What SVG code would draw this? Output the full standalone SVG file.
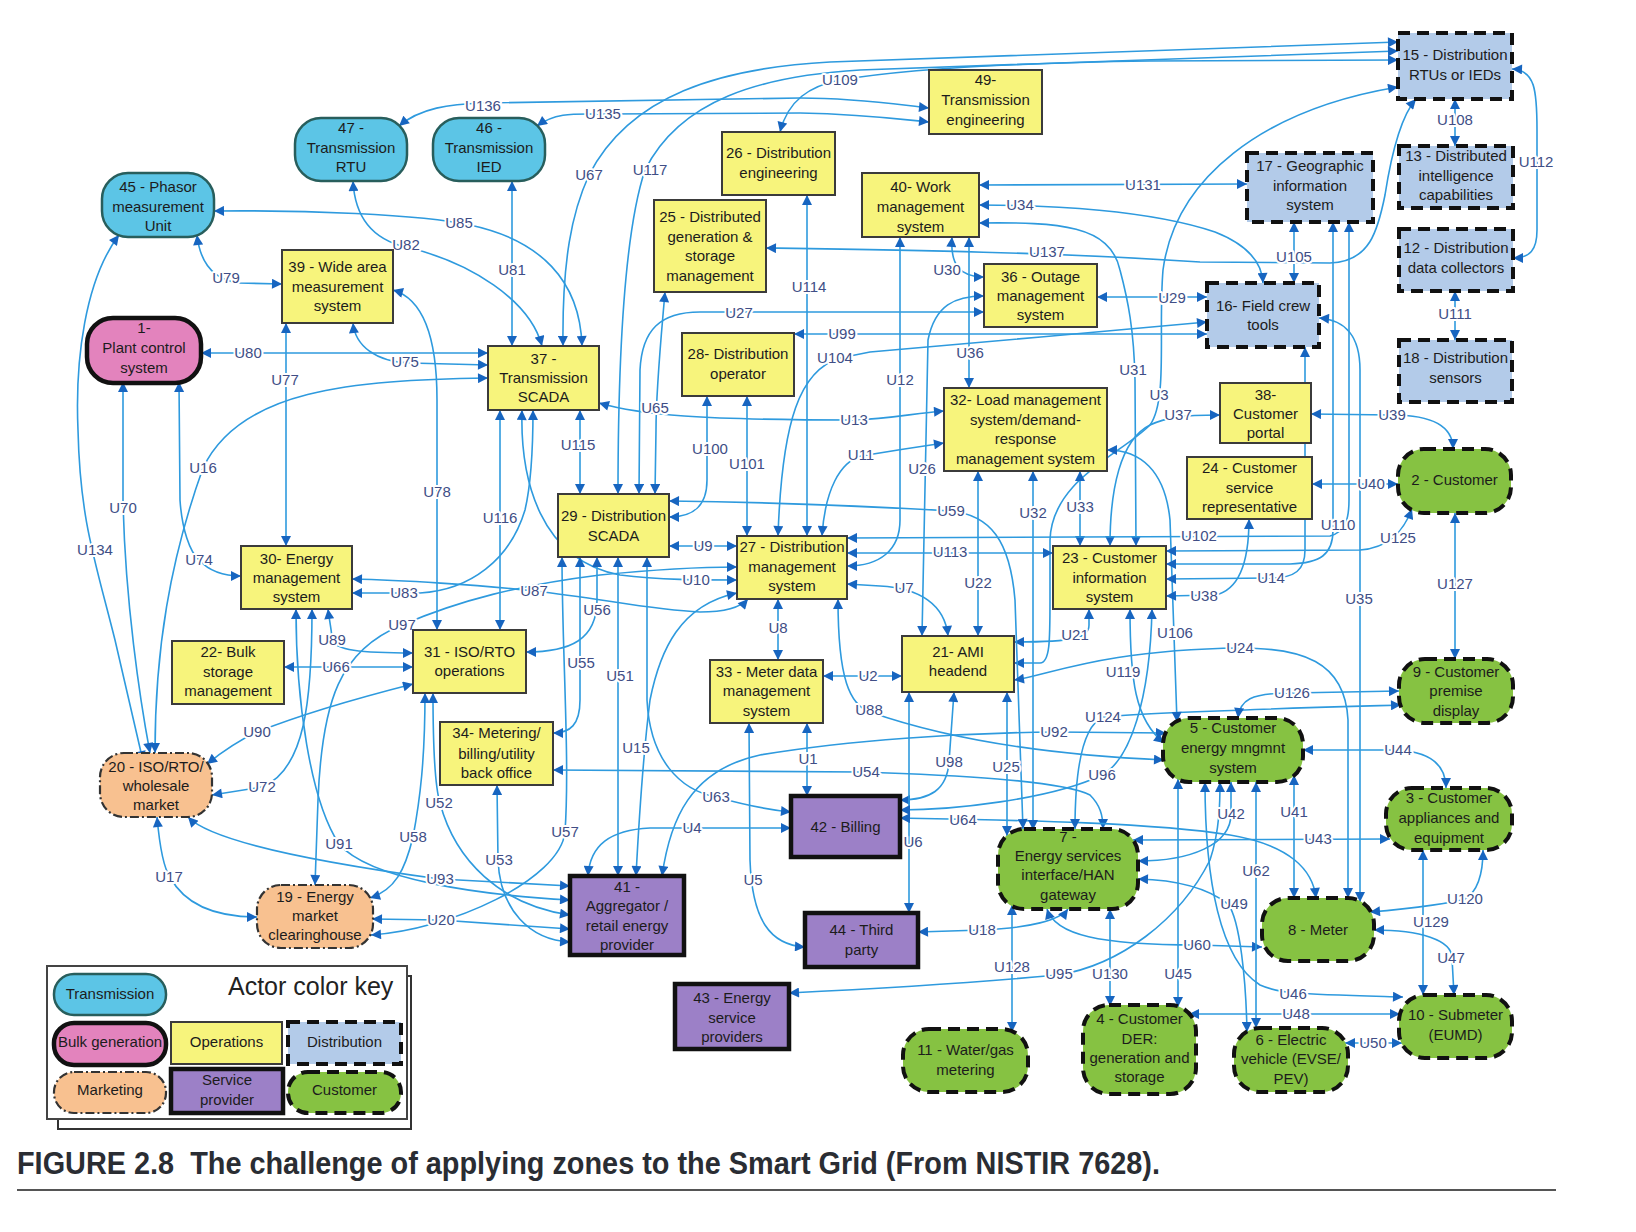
<svg xmlns="http://www.w3.org/2000/svg" width="1636" height="1232" viewBox="0 0 1636 1232">
<defs>
<marker id="a" viewBox="0 0 10 10" refX="10" refY="5" markerUnits="userSpaceOnUse" markerWidth="12" markerHeight="10" orient="auto-start-reverse"><path d="M0,0 L10,5 L0,10 z" fill="#1765c0"/></marker>
</defs>
<style>
.c{fill:none;stroke:#2e9ade;stroke-width:1.6;marker-start:url(#a);marker-end:url(#a)}
.l{font-family:"Liberation Sans",Arial,sans-serif;font-size:15px;fill:#404e86;text-anchor:middle;stroke:#fff;stroke-width:4px;paint-order:stroke;stroke-linejoin:round}
.t{font-family:"Liberation Sans",Arial,sans-serif;font-size:15px;fill:#1c1c1c;text-anchor:middle}
.op{fill:#f7f47c;stroke:#3b3b3b;stroke-width:2}
.tr{fill:#5cc5e6;stroke:#285e5c;stroke-width:2.5}
.bg{fill:#e383bd;stroke:#111;stroke-width:4.5}
.di{fill:#b3cbe9;stroke:#111;stroke-width:4;stroke-dasharray:12 7}
.mk{fill:#f8c190;stroke:#333;stroke-width:2.2;stroke-dasharray:9 3 2 3}
.sp{fill:#9c80c7;stroke:#111;stroke-width:4.5}
.cu{fill:#86c242;stroke:#111;stroke-width:4;stroke-dasharray:12 7}
</style>
<rect width="1636" height="1232" fill="#fff"/>
<g id="connectors">
<path class="c" d="M399,126 C420,108 450,104 483,103 L800,98 C860,98 900,105 929,108"/>
<path class="c" d="M537,126 C556,112 575,114 603,114 L800,113 C860,114 900,119 929,122"/>
<path class="c" d="M780,132 C788,100 810,86 840,80 C900,70 1000,63 1150,61 L1398,60"/>
<path class="c" d="M563,346 C562,260 572,212 589,175 C630,95 720,68 830,62 L1398,42"/>
<path class="c" d="M618,494 C618,350 625,230 645,170 C680,100 760,76 860,70 L1398,51"/>
<path class="c" d="M766,248 C900,250 1050,252 1200,262 L1330,263 C1370,262 1378,230 1385,195 C1392,150 1402,115 1416,99"/>
<path class="c" d="M1014,663 L1040,663 C1050,663 1050,640 1050,600 L1050,540 C1052,480 1120,455 1150,425 C1168,400 1158,330 1163,270 C1175,180 1260,110 1398,87"/>
<path class="c" d="M979,185 L1247,184"/>
<path class="c" d="M979,205 C1050,205 1150,210 1215,232 C1248,245 1262,262 1263,283"/>
<path class="c" d="M979,223 C1060,222 1110,225 1120,270 C1128,300 1134,330 1135,380 L1136,546"/>
<path class="c" d="M952,237 C950,265 960,277 984,277"/>
<path class="c" d="M969,237 L969,388"/>
<path class="c" d="M984,296 C955,296 935,305 928,340 L922,636"/>
<path class="c" d="M984,312 L700,312 C660,312 642,330 640,370 L639,494"/>
<path class="c" d="M1097,297 L1207,297"/>
<path class="c" d="M1207,322 C1120,330 950,345 870,352 L840,358 C800,370 782,420 778,536"/>
<path class="c" d="M794,334 L1207,334"/>
<path class="c" d="M1294,222 L1294,283"/>
<path class="c" d="M1455,99 L1455,146"/>
<path class="c" d="M1455,291 L1455,340"/>
<path class="c" d="M1512,69 C1535,70 1537,90 1537,130 L1537,230 C1537,250 1530,258 1513,258"/>
<path class="c" d="M214,211 C300,210 420,214 470,225 C540,240 580,280 582,346"/>
<path class="c" d="M353,181 C355,220 375,240 406,247 C470,262 530,300 542,346"/>
<path class="c" d="M512,181 L512,346"/>
<path class="c" d="M197,235 C200,262 212,280 240,283 L282,284"/>
<path class="c" d="M201,353 L488,353"/>
<path class="c" d="M353,323 C355,345 375,362 410,363 L488,365"/>
<path class="c" d="M155,753 C155,650 170,560 203,468 C240,390 350,380 488,378"/>
<path class="c" d="M123,382 L123,500 C125,600 140,700 150,753"/>
<path class="c" d="M119,235 C85,280 75,360 78,430 C80,520 95,560 115,640 L143,761"/>
<path class="c" d="M179,382 L180,500 C182,530 190,552 199,560 C210,572 225,576 241,576"/>
<path class="c" d="M286,323 L286,546"/>
<path class="c" d="M393,290 C420,298 437,330 437,400 L437,630"/>
<path class="c" d="M500,410 L500,630"/>
<path class="c" d="M580,410 L580,494"/>
<path class="c" d="M665,292 C660,350 656,390 656,430 L655,494"/>
<path class="c" d="M707,396 L707,480 C707,505 695,517 669,517"/>
<path class="c" d="M747,396 L747,536"/>
<path class="c" d="M807,195 L807,536"/>
<path class="c" d="M599,403 C640,415 700,420 854,420 C890,419 915,413 944,411"/>
<path class="c" d="M944,443 C910,448 885,452 861,456 C840,462 825,490 822,536"/>
<path class="c" d="M900,237 L900,520 C900,550 880,566 847,566"/>
<path class="c" d="M847,553 L1053,553"/>
<path class="c" d="M669,546 L737,546"/>
<path class="c" d="M522,410 C520,480 540,560 620,575 C660,580 700,580 737,580"/>
<path class="c" d="M315,885 L318,800 C322,700 340,650 402,625 C460,600 520,585 600,575 C660,569 700,567 737,567"/>
<path class="c" d="M352,593 L420,593 C470,590 510,560 525,510 C532,480 533,440 533,410"/>
<path class="c" d="M352,579 C400,580 480,585 534,591 C600,598 650,610 700,612 C725,612 740,608 748,599"/>
<path class="c" d="M597,557 L597,600 C597,640 570,652 526,652"/>
<path class="c" d="M580,557 L580,700 C580,725 570,733 553,733"/>
<path class="c" d="M618,557 L618,876"/>
<path class="c" d="M737,593 C680,605 660,650 650,700 C645,740 640,800 636,876"/>
<path class="c" d="M647,557 L647,700 C650,760 680,790 716,797 C745,805 770,810 791,812"/>
<path class="c" d="M562,557 C562,650 570,760 565,832 C560,880 450,930 371,935"/>
<path class="c" d="M778,599 L778,660"/>
<path class="c" d="M847,584 L880,586 C920,588 945,605 948,636"/>
<path class="c" d="M823,676 L902,676"/>
<path class="c" d="M807,723 L807,796"/>
<path class="c" d="M749,723 L750,860 C752,920 770,945 805,947"/>
<path class="c" d="M838,599 C838,680 850,705 870,712 C950,740 1050,755 1164,760"/>
<path class="c" d="M662,876 C670,820 690,770 760,755 C850,740 960,733 1055,732 L1166,733"/>
<path class="c" d="M553,770 L860,772 C950,775 1060,780 1090,795 C1100,805 1103,815 1103,829"/>
<path class="c" d="M954,692 C952,720 950,745 949,762 C947,790 930,800 900,800"/>
<path class="c" d="M1007,692 L1007,836"/>
<path class="c" d="M909,692 L909,913"/>
<path class="c" d="M900,818 C1000,820 1150,822 1230,835 C1290,845 1313,870 1316,898"/>
<path class="c" d="M588,876 C590,845 610,830 650,828 L791,828"/>
<path class="c" d="M918,932 L982,930 C1030,928 1060,920 1068,909"/>
<path class="c" d="M1012,905 L1012,1032"/>
<path class="c" d="M1110,909 L1110,1006"/>
<path class="c" d="M789,993 C850,990 950,985 1058,975 C1120,965 1180,920 1210,860 C1220,830 1220,800 1220,782"/>
<path class="c" d="M1178,779 L1178,1007"/>
<path class="c" d="M1047,909 C1055,935 1100,945 1197,945 L1262,947"/>
<path class="c" d="M1152,609 C1150,700 1130,760 1102,775 C1050,800 950,810 900,810"/>
<path class="c" d="M1130,609 C1130,680 1135,720 1164,743"/>
<path class="c" d="M1075,829 C1075,760 1085,725 1103,717 C1150,712 1300,708 1401,705"/>
<path class="c" d="M1238,718 C1240,700 1250,693 1292,693 L1399,691"/>
<path class="c" d="M1089,609 L1089,625 C1089,638 1075,642 1014,642"/>
<path class="c" d="M978,471 L978,636"/>
<path class="c" d="M1033,471 L1033,830"/>
<path class="c" d="M1080,471 L1080,546"/>
<path class="c" d="M669,501 C750,502 850,505 951,511 C990,515 1010,540 1015,600 L1023,829"/>
<path class="c" d="M1110,546 C1110,490 1120,440 1150,425 C1165,418 1180,415 1220,415"/>
<path class="c" d="M1107,450 C1140,450 1165,470 1170,520 L1177,722"/>
<path class="c" d="M1249,519 C1249,560 1240,590 1215,595 L1166,596"/>
<path class="c" d="M1305,347 L1305,550 C1305,570 1295,578 1271,578 L1166,579"/>
<path class="c" d="M1333,222 L1333,530 C1333,555 1320,563 1290,564 L1166,564"/>
<path class="c" d="M847,538 L1330,536 C1345,532 1349,520 1349,500 L1349,222"/>
<path class="c" d="M1319,318 C1345,320 1360,335 1360,370 L1360,902"/>
<path class="c" d="M1014,680 C1050,675 1100,650 1240,648 C1300,648 1345,660 1348,720 L1348,898"/>
<path class="c" d="M1166,551 L1360,550 C1390,548 1404,530 1412,509"/>
<path class="c" d="M1311,414 L1392,415 C1430,415 1453,425 1453,449"/>
<path class="c" d="M1312,484 L1398,484"/>
<path class="c" d="M1455,513 L1455,659"/>
<path class="c" d="M1303,750 L1398,750 C1430,752 1446,765 1446,788"/>
<path class="c" d="M1231,782 L1231,814 C1231,845 1190,861 1138,861"/>
<path class="c" d="M1294,775 L1294,898"/>
<path class="c" d="M1256,782 L1256,1028"/>
<path class="c" d="M1138,879 C1180,880 1210,890 1228,904 C1240,920 1246,980 1247,1032"/>
<path class="c" d="M1133,840 L1390,839"/>
<path class="c" d="M1205,782 C1205,880 1220,960 1260,985 C1280,994 1300,994 1403,997"/>
<path class="c" d="M1189,1014 L1400,1014"/>
<path class="c" d="M1345,1043 L1402,1043"/>
<path class="c" d="M1374,930 C1420,930 1452,940 1452,958 L1454,995"/>
<path class="c" d="M1423,850 L1423,995"/>
<path class="c" d="M1370,912 C1420,908 1455,902 1465,899 C1480,890 1483,870 1483,850"/>
<path class="c" d="M328,609 C330,625 332,632 332,640 C335,650 360,653 413,653"/>
<path class="c" d="M284,667 L413,667"/>
<path class="c" d="M413,684 C350,700 300,715 257,732 C240,740 222,752 207,764"/>
<path class="c" d="M312,609 C312,700 305,770 262,787 L212,795"/>
<path class="c" d="M296,609 C296,700 310,800 339,844 C370,880 480,895 570,900"/>
<path class="c" d="M425,693 C425,760 420,800 413,837 C405,870 395,890 370,898"/>
<path class="c" d="M433,693 C433,760 436,790 440,803 C455,860 500,905 570,915"/>
<path class="c" d="M497,785 L498,860 C500,910 530,940 570,942"/>
<path class="c" d="M188,817 C210,840 300,860 440,879 L570,886"/>
<path class="c" d="M372,919 L440,920 L570,929"/>
<path class="c" d="M157,817 C160,850 165,870 170,877 C185,905 215,917 257,917"/>
<g id="connector-labels">
<text class="l" x="483" y="111">U136</text>
<text class="l" x="603" y="119">U135</text>
<text class="l" x="840" y="85">U109</text>
<text class="l" x="589" y="180">U67</text>
<text class="l" x="650" y="175">U117</text>
<text class="l" x="1047" y="257">U137</text>
<text class="l" x="1159" y="400">U3</text>
<text class="l" x="1143" y="190">U131</text>
<text class="l" x="1020" y="210">U34</text>
<text class="l" x="1133" y="375">U31</text>
<text class="l" x="947" y="275">U30</text>
<text class="l" x="970" y="358">U36</text>
<text class="l" x="922" y="474">U26</text>
<text class="l" x="739" y="318">U27</text>
<text class="l" x="1172" y="303">U29</text>
<text class="l" x="835" y="363">U104</text>
<text class="l" x="842" y="339">U99</text>
<text class="l" x="1294" y="262">U105</text>
<text class="l" x="1455" y="125">U108</text>
<text class="l" x="1455" y="319">U111</text>
<text class="l" x="1536" y="167">U112</text>
<text class="l" x="459" y="228">U85</text>
<text class="l" x="406" y="250">U82</text>
<text class="l" x="512" y="275">U81</text>
<text class="l" x="226" y="283">U79</text>
<text class="l" x="248" y="358">U80</text>
<text class="l" x="405" y="367">U75</text>
<text class="l" x="203" y="473">U16</text>
<text class="l" x="123" y="513">U70</text>
<text class="l" x="95" y="555">U134</text>
<text class="l" x="199" y="565">U74</text>
<text class="l" x="285" y="385">U77</text>
<text class="l" x="437" y="497">U78</text>
<text class="l" x="500" y="523">U116</text>
<text class="l" x="578" y="450">U115</text>
<text class="l" x="655" y="413">U65</text>
<text class="l" x="710" y="454">U100</text>
<text class="l" x="747" y="469">U101</text>
<text class="l" x="809" y="292">U114</text>
<text class="l" x="854" y="425">U13</text>
<text class="l" x="861" y="460">U11</text>
<text class="l" x="900" y="385">U12</text>
<text class="l" x="950" y="557">U113</text>
<text class="l" x="703" y="551">U9</text>
<text class="l" x="696" y="585">U10</text>
<text class="l" x="402" y="630">U97</text>
<text class="l" x="404" y="598">U83</text>
<text class="l" x="534" y="596">U87</text>
<text class="l" x="597" y="615">U56</text>
<text class="l" x="581" y="668">U55</text>
<text class="l" x="620" y="681">U51</text>
<text class="l" x="636" y="753">U15</text>
<text class="l" x="716" y="802">U63</text>
<text class="l" x="565" y="837">U57</text>
<text class="l" x="778" y="633">U8</text>
<text class="l" x="904" y="593">U7</text>
<text class="l" x="868" y="681">U2</text>
<text class="l" x="808" y="764">U1</text>
<text class="l" x="753" y="885">U5</text>
<text class="l" x="869" y="715">U88</text>
<text class="l" x="1054" y="737">U92</text>
<text class="l" x="866" y="777">U54</text>
<text class="l" x="949" y="767">U98</text>
<text class="l" x="1006" y="772">U25</text>
<text class="l" x="913" y="847">U6</text>
<text class="l" x="963" y="825">U64</text>
<text class="l" x="692" y="833">U4</text>
<text class="l" x="982" y="935">U18</text>
<text class="l" x="1012" y="972">U128</text>
<text class="l" x="1110" y="979">U130</text>
<text class="l" x="1059" y="979">U95</text>
<text class="l" x="1178" y="979">U45</text>
<text class="l" x="1197" y="950">U60</text>
<text class="l" x="1102" y="780">U96</text>
<text class="l" x="1123" y="677">U119</text>
<text class="l" x="1103" y="722">U124</text>
<text class="l" x="1292" y="698">U126</text>
<text class="l" x="1075" y="640">U21</text>
<text class="l" x="978" y="588">U22</text>
<text class="l" x="1033" y="518">U32</text>
<text class="l" x="1080" y="512">U33</text>
<text class="l" x="951" y="516">U59</text>
<text class="l" x="1178" y="420">U37</text>
<text class="l" x="1175" y="638">U106</text>
<text class="l" x="1204" y="601">U38</text>
<text class="l" x="1271" y="583">U14</text>
<text class="l" x="1338" y="530">U110</text>
<text class="l" x="1199" y="541">U102</text>
<text class="l" x="1359" y="604">U35</text>
<text class="l" x="1240" y="653">U24</text>
<text class="l" x="1398" y="543">U125</text>
<text class="l" x="1392" y="420">U39</text>
<text class="l" x="1371" y="489">U40</text>
<text class="l" x="1455" y="589">U127</text>
<text class="l" x="1398" y="755">U44</text>
<text class="l" x="1231" y="819">U42</text>
<text class="l" x="1294" y="817">U41</text>
<text class="l" x="1256" y="876">U62</text>
<text class="l" x="1234" y="909">U49</text>
<text class="l" x="1318" y="844">U43</text>
<text class="l" x="1293" y="999">U46</text>
<text class="l" x="1296" y="1019">U48</text>
<text class="l" x="1373" y="1048">U50</text>
<text class="l" x="1451" y="963">U47</text>
<text class="l" x="1431" y="927">U129</text>
<text class="l" x="1465" y="904">U120</text>
<text class="l" x="332" y="645">U89</text>
<text class="l" x="336" y="672">U66</text>
<text class="l" x="257" y="737">U90</text>
<text class="l" x="262" y="792">U72</text>
<text class="l" x="339" y="849">U91</text>
<text class="l" x="413" y="842">U58</text>
<text class="l" x="439" y="808">U52</text>
<text class="l" x="499" y="865">U53</text>
<text class="l" x="440" y="884">U93</text>
<text class="l" x="441" y="925">U20</text>
<text class="l" x="169" y="882">U17</text>
</g>
</g>
<g id="n45"><rect class="tr" x="102" y="173" width="112" height="64" rx="26"/><text class="t"><tspan x="158" y="192">45 - Phasor</tspan><tspan x="158" y="212">measurement</tspan><tspan x="158" y="231">Unit</tspan></text></g>
<g id="n47"><rect class="tr" x="295" y="118" width="112" height="63" rx="26"/><text class="t"><tspan x="351" y="133">47 -</tspan><tspan x="351" y="153">Transmission</tspan><tspan x="351" y="172">RTU</tspan></text></g>
<g id="n46"><rect class="tr" x="433" y="118" width="112" height="63" rx="26"/><text class="t"><tspan x="489" y="133">46 -</tspan><tspan x="489" y="153">Transmission</tspan><tspan x="489" y="172">IED</tspan></text></g>
<g id="n49"><rect class="op" x="929" y="70" width="113" height="64"/><text class="t"><tspan x="985.5" y="85">49-</tspan><tspan x="985.5" y="105">Transmission</tspan><tspan x="985.5" y="125">engineering</tspan></text></g>
<g id="n26"><rect class="op" x="722" y="132" width="113" height="63"/><text class="t"><tspan x="778.5" y="158">26 - Distribution</tspan><tspan x="778.5" y="178">engineering</tspan></text></g>
<g id="n25"><rect class="op" x="654" y="200" width="112" height="92"/><text class="t"><tspan x="710" y="222">25 - Distributed</tspan><tspan x="710" y="242">generation &amp;</tspan><tspan x="710" y="261">storage</tspan><tspan x="710" y="281">management</tspan></text></g>
<g id="n40"><rect class="op" x="862" y="173" width="117" height="64"/><text class="t"><tspan x="920.5" y="192">40- Work</tspan><tspan x="920.5" y="212">management</tspan><tspan x="920.5" y="232">system</tspan></text></g>
<g id="n17"><rect class="di" x="1247" y="153" width="126" height="69"/><text class="t"><tspan x="1310" y="171">17 - Geographic</tspan><tspan x="1310" y="190.5">information</tspan><tspan x="1310" y="210">system</tspan></text></g>
<g id="n15"><rect class="di" x="1398" y="33" width="114" height="66"/><text class="t"><tspan x="1455" y="60">15 - Distribution</tspan><tspan x="1455" y="80">RTUs or IEDs</tspan></text></g>
<g id="n13"><rect class="di" x="1399" y="146" width="114" height="62"/><text class="t"><tspan x="1456" y="161">13 - Distributed</tspan><tspan x="1456" y="181">intelligence</tspan><tspan x="1456" y="200">capabilities</tspan></text></g>
<g id="n12"><rect class="di" x="1399" y="229" width="114" height="62"/><text class="t"><tspan x="1456" y="253">12 - Distribution</tspan><tspan x="1456" y="273">data collectors</tspan></text></g>
<g id="n18"><rect class="di" x="1399" y="340" width="113" height="62"/><text class="t"><tspan x="1455.5" y="363">18 - Distribution</tspan><tspan x="1455.5" y="383">sensors</tspan></text></g>
<g id="n39"><rect class="op" x="282" y="250" width="111" height="73"/><text class="t"><tspan x="337.5" y="272">39 - Wide area</tspan><tspan x="337.5" y="292">measurement</tspan><tspan x="337.5" y="311">system</tspan></text></g>
<g id="n1"><rect class="bg" x="87" y="318" width="114" height="65" rx="26"/><text class="t"><tspan x="144" y="333">1-</tspan><tspan x="144" y="353">Plant control</tspan><tspan x="144" y="373">system</tspan></text></g>
<g id="n37"><rect class="op" x="488" y="346" width="111" height="64"/><text class="t"><tspan x="543.5" y="364">37 -</tspan><tspan x="543.5" y="383">Transmission</tspan><tspan x="543.5" y="402">SCADA</tspan></text></g>
<g id="n28"><rect class="op" x="682" y="333" width="112" height="63"/><text class="t"><tspan x="738" y="359">28- Distribution</tspan><tspan x="738" y="379">operator</tspan></text></g>
<g id="n36"><rect class="op" x="984" y="264" width="113" height="63"/><text class="t"><tspan x="1040.5" y="282">36 - Outage</tspan><tspan x="1040.5" y="301">management</tspan><tspan x="1040.5" y="320">system</tspan></text></g>
<g id="n16"><rect class="di" x="1207" y="283" width="112" height="64"/><text class="t"><tspan x="1263" y="311">16- Field crew</tspan><tspan x="1263" y="330">tools</tspan></text></g>
<g id="n32"><rect class="op" x="944" y="388" width="163" height="83"/><text class="t"><tspan x="1025.5" y="405">32- Load management</tspan><tspan x="1025.5" y="425">system/demand-</tspan><tspan x="1025.5" y="444">response</tspan><tspan x="1025.5" y="464">management system</tspan></text></g>
<g id="n38"><rect class="op" x="1220" y="383" width="91" height="60"/><text class="t"><tspan x="1265.5" y="400">38-</tspan><tspan x="1265.5" y="419">Customer</tspan><tspan x="1265.5" y="438">portal</tspan></text></g>
<g id="n24"><rect class="op" x="1187" y="457" width="125" height="62"/><text class="t"><tspan x="1249.5" y="473">24 - Customer</tspan><tspan x="1249.5" y="493">service</tspan><tspan x="1249.5" y="512">representative</tspan></text></g>
<g id="n2"><rect class="cu" x="1398" y="449" width="113" height="64" rx="26"/><text class="t"><tspan x="1454.5" y="485">2 - Customer</tspan></text></g>
<g id="n29"><rect class="op" x="558" y="494" width="111" height="63"/><text class="t"><tspan x="613.5" y="521">29 - Distribution</tspan><tspan x="613.5" y="541">SCADA</tspan></text></g>
<g id="n27"><rect class="op" x="737" y="536" width="110" height="63"/><text class="t"><tspan x="792" y="552">27 - Distribution</tspan><tspan x="792" y="572">management</tspan><tspan x="792" y="591">system</tspan></text></g>
<g id="n23"><rect class="op" x="1053" y="546" width="113" height="63"/><text class="t"><tspan x="1109.5" y="563">23 - Customer</tspan><tspan x="1109.5" y="583">information</tspan><tspan x="1109.5" y="602">system</tspan></text></g>
<g id="n30"><rect class="op" x="241" y="546" width="111" height="63"/><text class="t"><tspan x="296.5" y="564">30- Energy</tspan><tspan x="296.5" y="583">management</tspan><tspan x="296.5" y="602">system</tspan></text></g>
<g id="n22"><rect class="op" x="172" y="641" width="112" height="63"/><text class="t"><tspan x="228" y="657">22- Bulk</tspan><tspan x="228" y="677">storage</tspan><tspan x="228" y="696">management</tspan></text></g>
<g id="n31"><rect class="op" x="413" y="630" width="113" height="63"/><text class="t"><tspan x="469.5" y="657">31 - ISO/RTO</tspan><tspan x="469.5" y="676">operations</tspan></text></g>
<g id="n33"><rect class="op" x="710" y="660" width="113" height="63"/><text class="t"><tspan x="766.5" y="677">33 - Meter data</tspan><tspan x="766.5" y="696">management</tspan><tspan x="766.5" y="716">system</tspan></text></g>
<g id="n21"><rect class="op" x="902" y="636" width="112" height="56"/><text class="t"><tspan x="958" y="657">21- AMI</tspan><tspan x="958" y="676">headend</tspan></text></g>
<g id="n9"><rect class="cu" x="1399" y="659" width="114" height="64" rx="26"/><text class="t"><tspan x="1456" y="677">9 - Customer</tspan><tspan x="1456" y="696">premise</tspan><tspan x="1456" y="716">display</tspan></text></g>
<g id="n5"><rect class="cu" x="1163" y="718" width="140" height="64" rx="26"/><text class="t"><tspan x="1233" y="733">5 - Customer</tspan><tspan x="1233" y="753">energy mngmnt</tspan><tspan x="1233" y="773">system</tspan></text></g>
<g id="n34"><rect class="op" x="440" y="722" width="113" height="63"/><text class="t"><tspan x="496.5" y="738">34- Metering/</tspan><tspan x="496.5" y="759">billing/utility</tspan><tspan x="496.5" y="778">back office</tspan></text></g>
<g id="n20"><rect class="mk" x="100" y="753" width="112" height="64" rx="24"/><text class="t"><tspan x="156" y="772">20 - ISO/RTO/</tspan><tspan x="156" y="791">wholesale</tspan><tspan x="156" y="810">market</tspan></text></g>
<g id="n42"><rect class="sp" x="791" y="796" width="109" height="61"/><text class="t"><tspan x="845.5" y="832">42 - Billing</tspan></text></g>
<g id="n3"><rect class="cu" x="1386" y="788" width="126" height="62" rx="26"/><text class="t"><tspan x="1449" y="803">3 - Customer</tspan><tspan x="1449" y="823">appliances and</tspan><tspan x="1449" y="843">equipment</tspan></text></g>
<g id="n7"><rect class="cu" x="998" y="829" width="140" height="80" rx="26"/><text class="t"><tspan x="1068" y="842">7 -</tspan><tspan x="1068" y="861">Energy services</tspan><tspan x="1068" y="880">interface/HAN</tspan><tspan x="1068" y="900">gateway</tspan></text></g>
<g id="n8"><rect class="cu" x="1262" y="898" width="112" height="63" rx="26"/><text class="t"><tspan x="1318" y="935">8 - Meter</tspan></text></g>
<g id="n41"><rect class="sp" x="570" y="876" width="114" height="79"/><text class="t"><tspan x="627" y="892">41 -</tspan><tspan x="627" y="911">Aggregator /</tspan><tspan x="627" y="931">retail energy</tspan><tspan x="627" y="950">provider</tspan></text></g>
<g id="n19"><rect class="mk" x="257" y="885" width="116" height="63" rx="24"/><text class="t"><tspan x="315" y="902">19 - Energy</tspan><tspan x="315" y="921">market</tspan><tspan x="315" y="940">clearinghouse</tspan></text></g>
<g id="n44"><rect class="sp" x="805" y="913" width="113" height="54"/><text class="t"><tspan x="861.5" y="935">44 - Third</tspan><tspan x="861.5" y="955">party</tspan></text></g>
<g id="n43"><rect class="sp" x="675" y="984" width="114" height="65"/><text class="t"><tspan x="732" y="1003">43 - Energy</tspan><tspan x="732" y="1023">service</tspan><tspan x="732" y="1042">providers</tspan></text></g>
<g id="n10"><rect class="cu" x="1399" y="995" width="113" height="63" rx="26"/><text class="t"><tspan x="1455.5" y="1020">10 - Submeter</tspan><tspan x="1455.5" y="1040">(EUMD)</tspan></text></g>
<g id="n4"><rect class="cu" x="1083" y="1005" width="113" height="89" rx="26"/><text class="t"><tspan x="1139.5" y="1024">4 - Customer</tspan><tspan x="1139.5" y="1044">DER:</tspan><tspan x="1139.5" y="1063">generation and</tspan><tspan x="1139.5" y="1082">storage</tspan></text></g>
<g id="n11"><rect class="cu" x="903" y="1029" width="125" height="63" rx="26"/><text class="t"><tspan x="965.5" y="1055">11 - Water/gas</tspan><tspan x="965.5" y="1075">metering</tspan></text></g>
<g id="n6"><rect class="cu" x="1234" y="1028" width="114" height="64" rx="26"/><text class="t"><tspan x="1291" y="1045">6 - Electric</tspan><tspan x="1291" y="1064">vehicle (EVSE/</tspan><tspan x="1291" y="1084">PEV)</tspan></text></g>
<g id="legend">
<rect x="58" y="976" width="353" height="153" fill="#fff" stroke="#333" stroke-width="2"/>
<rect x="47" y="966" width="360" height="153" fill="#fff" stroke="#444" stroke-width="2"/>
<text x="228" y="995" font-family="Liberation Sans, Arial, sans-serif" font-size="25" fill="#222">Actor color key</text>
<rect class="tr" x="54" y="974" width="112" height="41" rx="20"/><text class="t" x="110" y="999">Transmission</text>
<rect class="bg" x="54" y="1023" width="112" height="42" rx="20"/><text class="t" x="110" y="1047">Bulk generation</text>
<rect class="mk" x="54" y="1072" width="112" height="41" rx="20"/><text class="t" x="110" y="1095">Marketing</text>
<rect class="op" x="171" y="1022" width="111" height="42"/><text class="t" x="226.5" y="1047">Operations</text>
<rect class="sp" x="171" y="1069" width="112" height="44"/><text class="t"><tspan x="227" y="1085">Service</tspan><tspan x="227" y="1105">provider</tspan></text>
<rect class="di" x="288" y="1022" width="113" height="42"/><text class="t" x="344.5" y="1047">Distribution</text>
<rect class="cu" x="288" y="1072" width="113" height="41" rx="20"/><text class="t" x="344.5" y="1095">Customer</text>
</g>
<g id="caption">
<text x="17" y="1174" xml:space="preserve" font-family="Liberation Sans, Arial, sans-serif" font-weight="bold" font-size="31" fill="#2a2d33" textLength="1143" lengthAdjust="spacingAndGlyphs">FIGURE 2.8  The challenge of applying zones to the Smart Grid (From NISTIR 7628).</text>
<line x1="17" y1="1190" x2="1556" y2="1190" stroke="#555" stroke-width="2"/>
</g>
</svg>
